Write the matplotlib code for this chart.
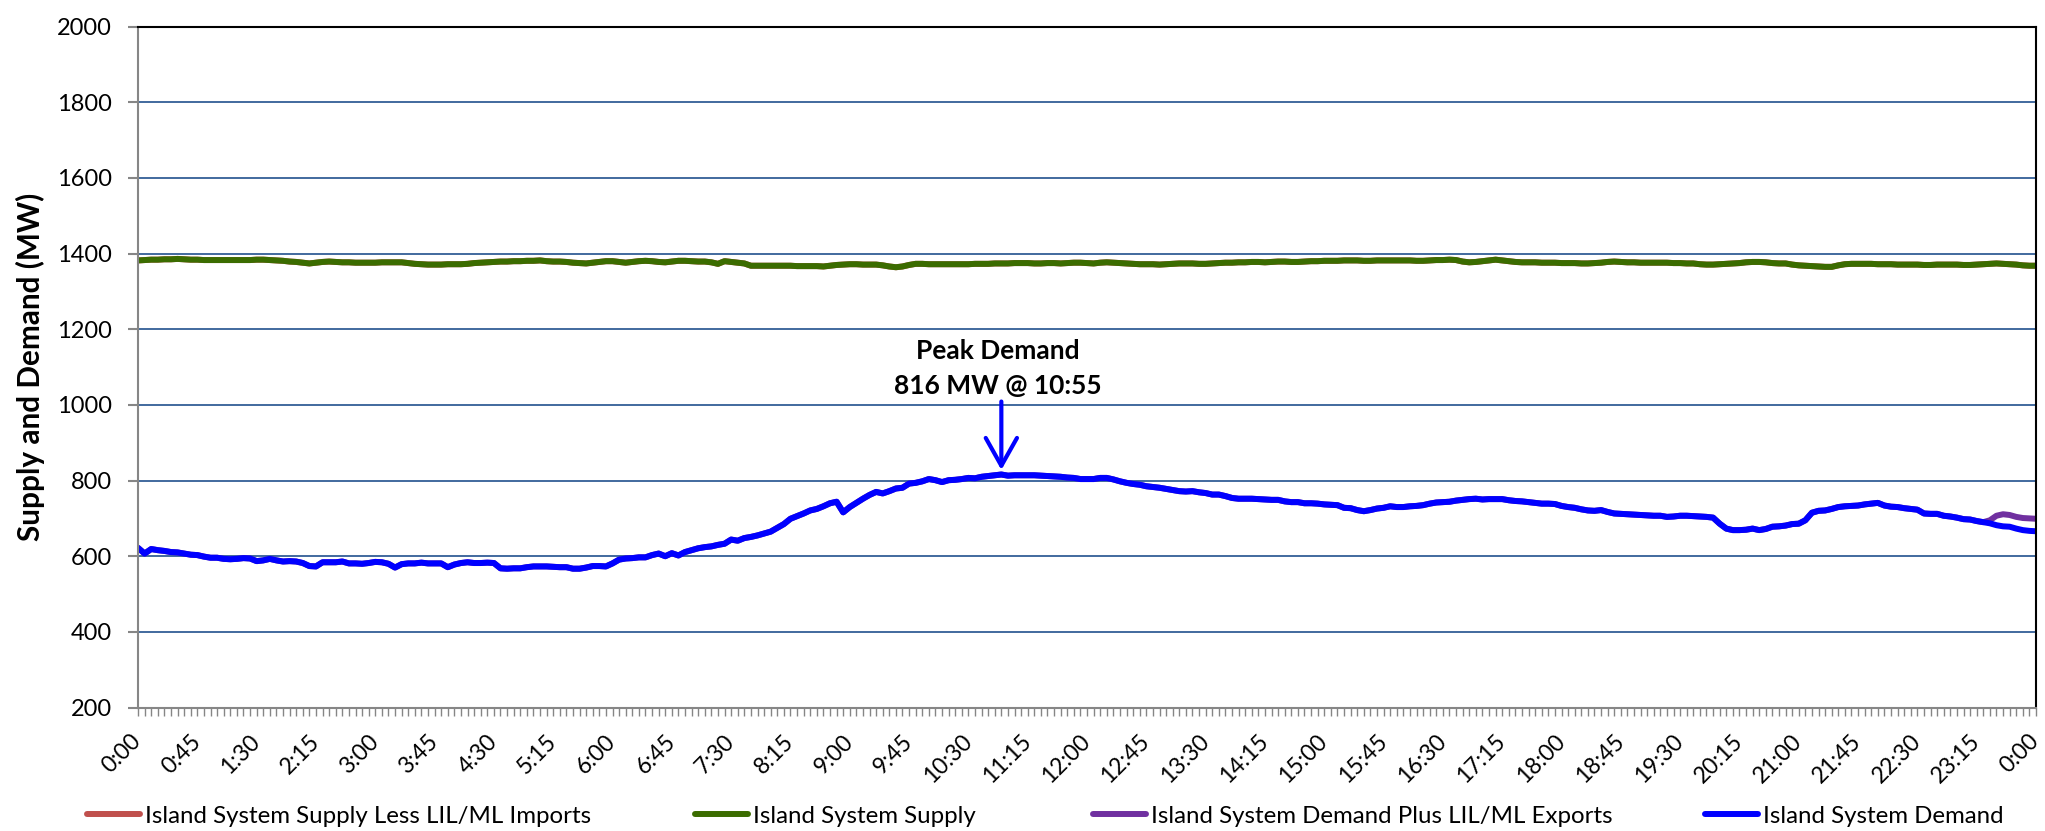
import matplotlib
matplotlib.use("Agg")
import matplotlib.pyplot as plt
import numpy as np

plt.rcParams['font.family'] = ['Lato', 'DejaVu Sans']

# 5-minute readings, 0:00 to 0:00 next day (289 points)
supply = [
    1382, 1383, 1384, 1384, 1385, 1385, 1386, 1385, 1384, 1384,
    1383, 1383, 1383, 1383, 1383, 1383, 1383, 1383, 1384, 1384,
    1383, 1382, 1381, 1379, 1378, 1376, 1374, 1376, 1378, 1379,
    1378, 1377, 1377, 1376, 1376, 1376, 1376, 1377, 1377, 1377,
    1377, 1375, 1373, 1372, 1371, 1371, 1371, 1372, 1372, 1372,
    1373, 1375, 1376, 1377, 1378, 1379, 1379, 1380, 1380, 1381,
    1381, 1382, 1380, 1379, 1379, 1378, 1376, 1375, 1374, 1376,
    1378, 1380, 1380, 1378, 1376, 1378, 1380, 1381, 1380, 1378,
    1377, 1379, 1381, 1381, 1380, 1379, 1379, 1377, 1373, 1380,
    1378, 1376, 1374, 1368, 1368, 1368, 1368, 1368, 1368, 1368,
    1367, 1367, 1367, 1367, 1366, 1368, 1370, 1371, 1372, 1372,
    1371, 1371, 1371, 1369, 1366, 1364, 1366, 1370, 1373, 1373,
    1372, 1372, 1372, 1372, 1372, 1372, 1372, 1373, 1373, 1373,
    1374, 1374, 1374, 1375, 1375, 1375, 1374, 1374, 1375, 1375,
    1374, 1375, 1376, 1376, 1375, 1374, 1376, 1377, 1376, 1375,
    1374, 1373, 1372, 1372, 1372, 1371, 1372, 1373, 1374, 1374,
    1374, 1373, 1373, 1374, 1375, 1376, 1376, 1377, 1377, 1378,
    1378, 1377, 1378, 1379, 1379, 1378, 1378, 1379, 1380, 1380,
    1381, 1381, 1381, 1382, 1382, 1382, 1381, 1381, 1382, 1382,
    1382, 1382, 1382, 1382, 1381, 1381, 1382, 1383, 1383, 1384,
    1383, 1379, 1377, 1378, 1380, 1382, 1384, 1382, 1380, 1378,
    1377, 1377, 1377, 1376, 1376, 1376, 1375, 1375, 1375, 1374,
    1374, 1375, 1376, 1378, 1379, 1378, 1377, 1377, 1376, 1376,
    1376, 1376, 1376, 1375, 1375, 1374, 1374, 1372, 1371, 1371,
    1372, 1373, 1374, 1375, 1377, 1378, 1378, 1377, 1375, 1374,
    1374, 1371, 1369, 1368, 1367, 1366, 1365, 1365, 1369, 1372,
    1373, 1373, 1373, 1373, 1372, 1372, 1372, 1371, 1371, 1371,
    1371, 1370, 1370, 1371, 1371, 1371, 1371, 1370, 1370, 1371,
    1372, 1373, 1374, 1373, 1372, 1371, 1369, 1368, 1368,
]

# no LIL/ML imports that day, so it sits under the supply line
supply_less_imports = list(supply)

demand = [
    622, 607, 619, 616, 614, 611, 610, 607, 604, 603,
    599, 596, 596, 593, 592, 593, 595, 594, 587, 589,
    593, 589, 586, 587, 586, 582, 574, 573, 584, 584,
    584, 586, 581, 581, 580, 582, 585, 584, 580, 570,
    579, 581, 581, 583, 581, 581, 581, 571, 578, 582,
    584, 582, 582, 583, 582, 568, 567, 568, 568, 571,
    573, 573, 573, 572, 571, 571, 567, 567, 570, 574,
    574, 573, 581, 591, 594, 595, 597, 597, 603, 607,
    600, 608, 602, 611, 616, 621, 624, 626, 630, 633,
    644, 641, 648, 651, 655, 660, 665, 675, 685, 699,
    706, 713, 721, 725, 732, 740, 744, 716, 730, 741,
    752, 762, 770, 766, 772, 779, 781, 792, 794, 798,
    804, 801, 796, 801, 802, 804, 807, 806, 810, 812,
    814, 816, 813, 814, 814, 814, 814, 813, 812, 811,
    810, 808, 807, 804, 804, 804, 807, 807, 803, 798,
    794, 791, 789, 785, 783, 781, 778, 775, 772, 771,
    772, 769, 767, 763, 763, 759, 754, 752, 752, 752,
    751, 750, 749, 749, 745, 743, 743, 740, 740, 739,
    737, 736, 735, 728, 727, 722, 719, 722, 726, 728,
    732, 730, 730, 732, 733, 735, 739, 742, 743, 744,
    747, 749, 751, 752, 750, 751, 751, 751, 748, 746,
    745, 743, 741, 739, 739, 738, 733, 730, 728, 724,
    721, 720, 722, 717, 713, 712, 711, 710, 709, 708,
    707, 707, 704, 705, 707, 707, 706, 705, 704, 702,
    686, 673, 669, 669, 670, 673, 669, 672, 678, 679,
    681, 685, 686, 695, 715, 720, 721, 725, 730, 732,
    733, 734, 737, 739, 741, 734, 731, 730, 727, 725,
    723, 713, 712, 712, 707, 705, 702, 698, 697, 693,
    690, 687, 682, 679, 678, 673, 669, 667, 666,
]

# exports start late in the evening
export_tail = [695, 707, 711, 709, 704, 701, 700, 699]
demand_plus_exports = demand[:281] + export_tail

tick_labels = ["0:00", "0:45", "1:30", "2:15", "3:00", "3:45", "4:30", "5:15",
               "6:00", "6:45", "7:30", "8:15", "9:00", "9:45", "10:30", "11:15",
               "12:00", "12:45", "13:30", "14:15", "15:00", "15:45", "16:30",
               "17:15", "18:00", "18:45", "19:30", "20:15", "21:00", "21:45",
               "22:30", "23:15", "0:00"]

peak_idx = 131
peak_lines = ["Peak Demand", "816 MW @ 10:55"]

names = ['Island System Supply Less LIL/ML Imports', 'Island System Supply',
         'Island System Demand Plus LIL/ML Exports', 'Island System Demand']

x = np.arange(len(demand))

fig = plt.figure(figsize=(20.45, 8.31), dpi=100)
renderer = fig.canvas.get_renderer()


def size_for(text, target_px, size=20, weight='normal'):
    # font size that makes `text` about target_px wide
    t = fig.text(0, 0, text, fontsize=size, fontweight=weight)
    w = t.get_window_extent(renderer).width
    t.remove()
    return size * target_px / w


legend_fs = size_for(names[0], 445)
peak_fs = size_for(peak_lines[1], 208, weight='bold')
ylabel_fs = size_for('Supply and Demand (MW)', 348, weight='bold')

ax = fig.add_axes([0.0675, 0.1486, 0.9281, 0.8193])

lw = 4.3
style = dict(lw=lw, solid_joinstyle='round', solid_capstyle='round')
l1, = ax.plot(x, supply_less_imports, color='#C0504D', **style)
l2, = ax.plot(x, supply, color='#3B6C00', **style)
l3, = ax.plot(x, demand_plus_exports, color='#7030A0', **style)
l4, = ax.plot(x, demand, color='#0000FF', **style)

ax.set_xlim(0, len(demand) - 1)
ax.set_ylim(200, 2000)
ax.set_yticks(np.arange(200, 2001, 200))
ax.grid(axis='y', color='#41699E', lw=1.4)
ax.set_axisbelow(True)

ax.set_xticks(np.arange(0, len(demand), 9))
ax.set_xticklabels(tick_labels, rotation=45, ha='right', va='center',
                   rotation_mode='anchor')
ax.set_xticks(x, minor=True)

for s in ['left', 'bottom']:
    ax.spines[s].set_color('#868686')
    ax.spines[s].set_linewidth(1.5)
for s in ['top', 'right']:
    ax.spines[s].set_color('black')
    ax.spines[s].set_linewidth(1.5)

ax.tick_params(axis='y', which='major', length=7, width=1.5, color='#868686',
               labelsize=17, pad=12)
ax.tick_params(axis='x', which='both', length=6, width=1, color='#868686',
               labelsize=16.5, pad=16)

ax.set_ylabel('Supply and Demand (MW)', fontsize=ylabel_fs, fontweight='bold')
ax.yaxis.set_label_coords(-0.049, 0.5)

ax.text(peak_idx - 0.5, 1142, peak_lines[0], ha='center', va='center',
        fontsize=peak_fs, fontweight='bold')
ax.text(peak_idx - 0.5, 1049, peak_lines[1], ha='center', va='center',
        fontsize=peak_fs, fontweight='bold')
ax.annotate('', xy=(peak_idx, 828), xytext=(peak_idx, 1009),
            arrowprops=dict(arrowstyle='->,head_length=0.8,head_width=0.45',
                            color='#0000FF', lw=3, mutation_scale=25,
                            shrinkA=0, shrinkB=0))

# single-entry legends, placed where each sits in the original
xpos = [0.0425, 0.3399, 0.5345, 0.8337]
handle_px = 53
for h, name, xp in zip([l1, l2, l3, l4], names, xpos):
    fig.legend([h], [name], loc='center left', bbox_to_anchor=(xp, 0.018),
               frameon=False, fontsize=legend_fs,
               handlelength=handle_px / (legend_fs * 100 / 72),
               handletextpad=0.2, borderpad=0, borderaxespad=0)

fig.savefig('out.png', dpi=100)
